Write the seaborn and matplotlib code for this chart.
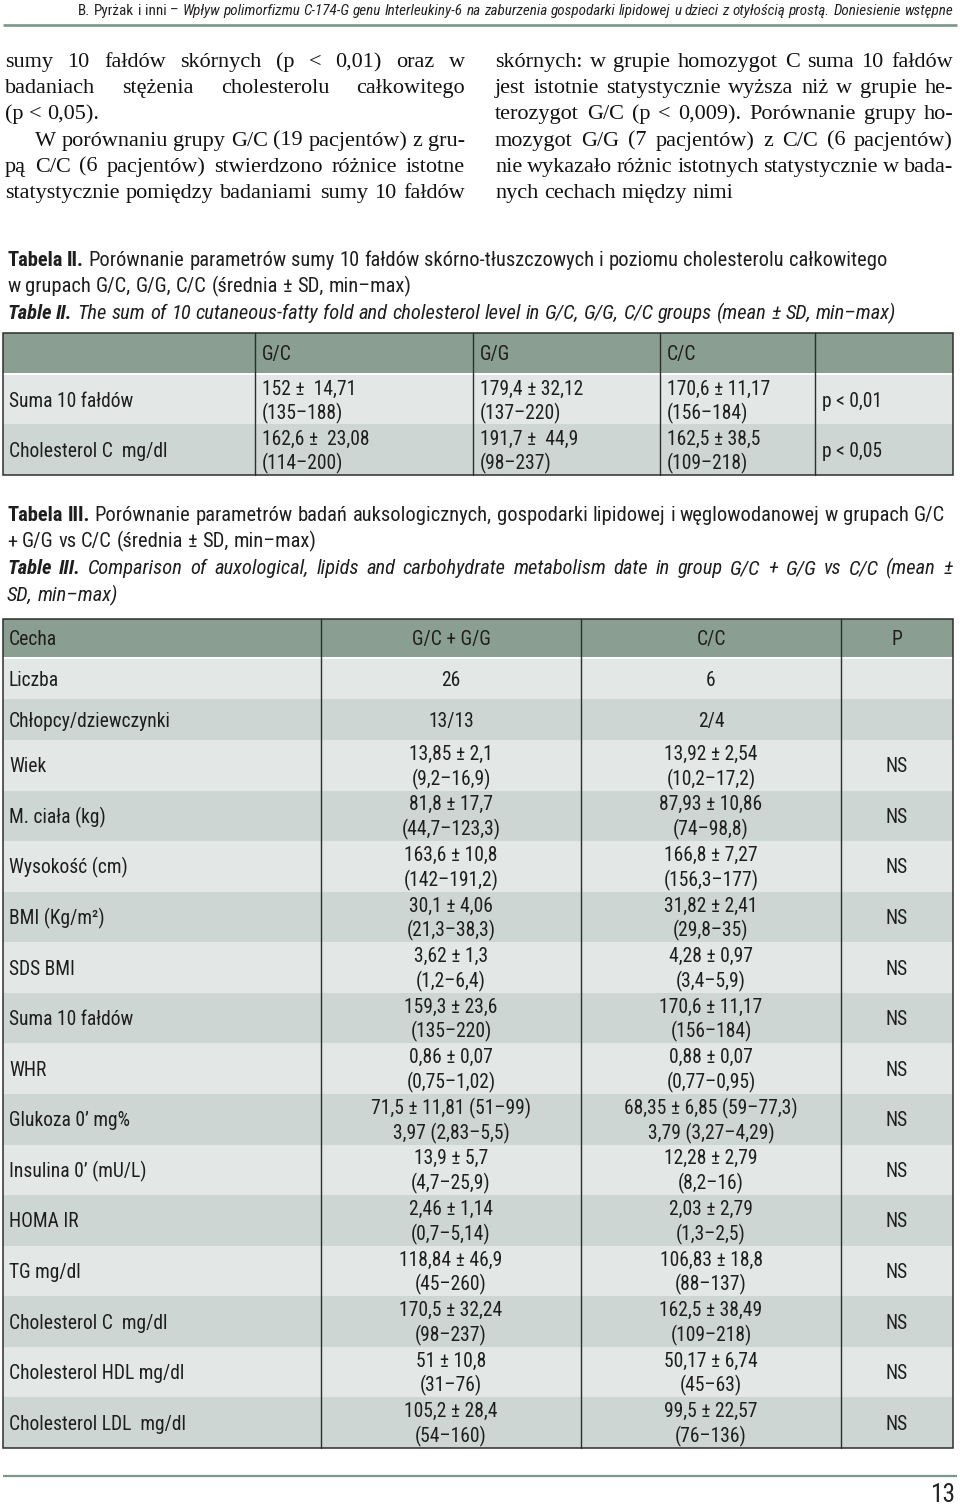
import numpy as np
import pandas as pd
import seaborn as sns
import matplotlib
matplotlib.use("Agg")
import matplotlib.pyplot as plt
from matplotlib.patches import Rectangle
from matplotlib import font_manager as fm

# ---------------- text content ----------------
header_author = "B. Pyrżak i inni –"
header_title = ("Wpływ polimorfizmu C-174-G genu Interleukiny-6 na zaburzenia gospodarki "
                "lipidowej u dzieci z otyłością prostą. Doniesienie wstępne")

left_col = [
    ("sumy 10 fałdów skórnych (p < 0,01) oraz w", True),
    ("badaniach stężenia cholesterolu całkowitego", True),
    ("(p < 0,05).", False),
    ("W porównaniu grupy G/C (19 pacjentów) z gru-", True),
    ("pą C/C (6 pacjentów) stwierdzono różnice istotne", True),
    ("statystycznie pomiędzy badaniami sumy 10 fałdów", True),
]
right_col = [
    ("skórnych: w grupie homozygot C suma 10 fałdów", True),
    ("jest istotnie statystycznie wyższa niż w grupie he-", True),
    ("terozygot G/C (p < 0,009). Porównanie grupy ho-", True),
    ("mozygot G/G (7 pacjentów) z C/C (6 pacjentów)", True),
    ("nie wykazało różnic istotnych statystycznie w bada-", True),
    ("nych cechach między nimi", False),
]

cap2_bold = "Tabela II."
cap2_text = ("Porównanie parametrów sumy 10 fałdów skórno-tłuszczowych i poziomu "
             "cholesterolu całkowitego")
cap2_line2 = "w  grupach G/C, G/G, C/C (średnia ± SD, min–max)"
cap2_en_bold = "Table II."
cap2_en_text = ("The sum of 10 cutaneous-fatty fold and cholesterol level in G/C, G/G, "
                "C/C groups (mean ± SD, min–max)")

cap3_bold = "Tabela III."
cap3_text = ("Porównanie parametrów badań auksologicznych, gospodarki lipidowej i  "
             "węglowodanowej  w grupach G/C")
cap3_line2 = "+ G/G vs C/C (średnia ± SD, min–max)"
cap3_en_bold = "Table III."
cap3_en_text = ("Comparison of auxological, lipids and carbohydrate metabolism date in "
                "group G/C + G/G vs C/C (mean ±")
cap3_en_line2 = "SD, min–max)"

# ---------------- Table II data ----------------
t2_columns = ["", "G/C", "G/G", "C/C", ""]
t2_labels = ["Suma 10 fałdów", "Cholesterol C  mg/dl"]
t2_gc_main = ["152 ±  14,71", "162,6 ±  23,08"]
t2_gc_range = ["(135–188)", "(114–200)"]
t2_gg_main = ["179,4 ± 32,12", "191,7 ±  44,9"]
t2_gg_range = ["(137–220)", "(98–237)"]
t2_cc_main = ["170,6 ± 11,17", "162,5 ± 38,5"]
t2_cc_range = ["(156–184)", "(109–218)"]
t2_p = ["p < 0,01", "p < 0,05"]

# ---------------- Table III data ----------------
t3_columns = ["Cecha", "G/C + G/G", "C/C", "P"]
t3_labels = ["Liczba", "Chłopcy/dziewczynki", "Wiek", "M. ciała (kg)", "Wysokość (cm)",
             "BMI (Kg/m²)", "SDS BMI", "Suma 10 fałdów", "WHR", "Glukoza 0’ mg%",
             "Insulina 0’ (mU/L)", "HOMA IR", "TG mg/dl", "Cholesterol C  mg/dl",
             "Cholesterol HDL mg/dl", "Cholesterol LDL  mg/dl"]
t3_gcgg_main = ["26", "13/13", "13,85 ± 2,1", "81,8 ± 17,7", "163,6 ± 10,8", "30,1 ± 4,06",
                "3,62 ± 1,3", "159,3 ± 23,6", "0,86 ± 0,07", "71,5 ± 11,81 (51–99)",
                "13,9 ± 5,7", "2,46 ± 1,14", "118,84 ± 46,9", "170,5 ± 32,24",
                "51 ± 10,8", "105,2 ± 28,4"]
t3_gcgg_range = ["", "", "(9,2–16,9)", "(44,7–123,3)", "(142–191,2)", "(21,3–38,3)",
                 "(1,2–6,4)", "(135–220)", "(0,75–1,02)", "3,97 (2,83–5,5)", "(4,7–25,9)",
                 "(0,7–5,14)", "(45–260)", "(98–237)", "(31–76)", "(54–160)"]
t3_cc_main = ["6", "2/4", "13,92 ± 2,54", "87,93 ± 10,86", "166,8 ± 7,27", "31,82 ± 2,41",
              "4,28 ± 0,97", "170,6 ± 11,17", "0,88 ± 0,07", "68,35 ± 6,85 (59–77,3)",
              "12,28 ± 2,79", "2,03 ± 2,79", "106,83 ± 18,8", "162,5 ± 38,49",
              "50,17 ± 6,74", "99,5 ± 22,57"]
t3_cc_range = ["", "", "(10,2–17,2)", "(74–98,8)", "(156,3–177)", "(29,8–35)", "(3,4–5,9)",
               "(156–184)", "(0,77–0,95)", "3,79 (3,27–4,29)", "(8,2–16)", "(1,3–2,5)",
               "(88–137)", "(109–218)", "(45–63)", "(76–136)"]
t3_p = ["", ""] + ["NS"] * 14
page_number = "13"

# ---------------- setup ----------------
sns.set_theme(style="white")


def pick_condensed():
    cands = [("Liberation Sans Narrow", "normal"), ("Arial Narrow", "normal"),
             ("Roboto Condensed", "normal"), ("Open Sans Condensed", "normal"),
             ("Noto Sans Condensed", "normal"), ("DejaVu Sans Condensed", "normal"),
             ("DejaVu Sans", "condensed"), ("Noto Sans", "condensed"),
             ("Roboto", "condensed"), ("Open Sans", "condensed")]
    for fam, st in cands:
        try:
            path = fm.findfont(fm.FontProperties(family=fam, stretch=st),
                               fallback_to_default=False)
            low = path.lower()
            if "narrow" in low or "condensed" in low or "cond" in low:
                return fam, st
        except Exception:
            pass
    return "Liberation Sans", "normal"


SANS, STRETCH = pick_condensed()
try:
    fm.findfont(fm.FontProperties(family="Liberation Serif"), fallback_to_default=False)
    SERIF = "Liberation Serif"
except Exception:
    SERIF = "DejaVu Serif"
plt.rcParams["font.family"] = [SANS, "DejaVu Sans"]

W, H = 960, 1505
fig = plt.figure(figsize=(W / 100, H / 100), dpi=100)
ax = fig.add_axes([0, 0, 1, 1])
ax.set_xlim(0, W)
ax.set_ylim(H, 0)
ax.axis("off")
renderer = fig.canvas.get_renderer()

HEAD = "#8a9f91"
LIGHT = "#e3e7e5"
DARK = "#cdd6d2"
BORDER = "#2e2e2e"
GREEN = "#7a9787"
INK = "#1e1e1e"


def props(family, weight="normal", style="normal"):
    return dict(family=[family, "DejaVu Sans"], weight=weight, style=style,
                fontstretch=STRETCH if family == SANS else "normal")


def tw(s, size, family, weight="normal", style="normal"):
    t = ax.text(0, 0, s, fontsize=size, **props(family, weight, style))
    w = t.get_window_extent(renderer).width
    t.remove()
    return w


def fit(s, target, family, weight="normal", style="normal"):
    return 10 * target / tw(s, 10, family, weight, style)


def draw_line(segs, x, y, size, family, justify_to=None, ha="left", color=INK):
    words = []
    for text, wt, st in segs:
        for w in text.split(" "):
            if w:
                words.append((w, wt, st))
    widths = [tw(w, size, family, wt, st) for w, wt, st in words]
    sp = tw("a a", size, family) - tw("aa", size, family)
    if justify_to is not None and len(words) > 1:
        gap = (justify_to - x - sum(widths)) / (len(words) - 1)
        gap = max(gap, 0.5 * sp)
    else:
        gap = sp
    total = sum(widths) + gap * (len(words) - 1)
    if ha == "right":
        x = x - total
    elif ha == "center":
        x = x - total / 2
    for (w, wt, st), wd in zip(words, widths):
        ax.text(x, y, w, fontsize=size, va="baseline", ha="left", color=color,
                **props(family, wt, st))
        x += wd + gap


# ---------------- page header ----------------
hs = fit(header_author + " " + header_title, 888, SANS)
draw_line([(header_author, "normal", "normal"), (header_title, "normal", "italic")],
          953, 15, hs, SANS, ha="right", color="#222222")
ax.plot([3, 957], [25, 25], color=GREEN, lw=1.9, solid_capstyle="butt")

# ---------------- body text ----------------
bs = fit("statystycznie pomiędzy badaniami sumy 10 fałdów", 458, SERIF)
for k, (txt, just) in enumerate(left_col):
    x0 = 35 if k == 3 else 5
    draw_line([(txt, "normal", "normal")], x0, 67 + 26.2 * k, bs, SERIF,
              justify_to=465 if just else None, color="#111111")
for k, (txt, just) in enumerate(right_col):
    draw_line([(txt, "normal", "normal")], 495, 67 + 26.2 * k, bs, SERIF,
              justify_to=953 if just else None, color="#111111")

# ---------------- captions ----------------
cs = fit(cap2_bold + " " + cap2_text, 873, SANS)
draw_line([(cap2_bold, "bold", "normal"), (cap2_text, "normal", "normal")], 7, 266, cs, SANS)
draw_line([(cap2_line2, "normal", "normal")], 7, 292, cs, SANS)
draw_line([(cap2_en_bold, "bold", "italic"), (cap2_en_text, "normal", "italic")], 7, 319, cs, SANS)

draw_line([(cap3_bold, "bold", "normal"), (cap3_text, "normal", "normal")], 7, 521, cs, SANS,
          justify_to=945)
draw_line([(cap3_line2, "normal", "normal")], 7, 547, cs, SANS)
draw_line([(cap3_en_bold, "bold", "italic"), (cap3_en_text, "normal", "italic")], 7, 574, cs, SANS,
          justify_to=953)
draw_line([(cap3_en_line2, "normal", "italic")], 7, 601, cs, SANS)

# ---------------- table cell text size ----------------
ts = fit("Chłopcy/dziewczynki", 154, SANS) * 1.05
em = ts * 100 / 72
off = 0.36 * em


def cell_text(x, yc, s, ha="left"):
    if s:
        ax.text(x, yc + off, s, fontsize=ts, ha=ha, va="baseline", color=INK,
                **props(SANS))


def rect(x0, x1, y0, y1, color):
    ax.add_patch(Rectangle((x0, y0), x1 - x0, y1 - y0, facecolor=color, edgecolor="none"))


# ---------------- Table II ----------------
c2 = [3, 255, 473, 660, 815, 953]
r2 = [(333, 373), (375, 424), (424, 475)]
rect(c2[0], c2[-1], r2[0][0], r2[0][1], HEAD)
rect(c2[0], c2[-1], r2[1][0], r2[1][1], LIGHT)
rect(c2[0], c2[-1], r2[2][0], r2[2][1], DARK)
for j, name in enumerate(t2_columns):
    cell_text(c2[j] + 7, 353, name)
t2_cols = [(t2_gc_main, t2_gc_range), (t2_gg_main, t2_gg_range), (t2_cc_main, t2_cc_range)]
for i in range(len(t2_labels)):
    y0, y1 = r2[i + 1]
    yc = (y0 + y1) / 2
    cell_text(9, yc, t2_labels[i])
    for j, (m, r) in enumerate(t2_cols):
        cell_text(c2[j + 1] + 7, yc - 12, m[i])
        cell_text(c2[j + 1] + 7, yc + 12.5, r[i])
    cell_text(c2[4] + 7, yc, t2_p[i])
ax.add_patch(Rectangle((c2[0], 333), c2[-1] - c2[0], 475 - 333, fill=False,
                       edgecolor=BORDER, lw=1.1))
for x in c2[1:-1]:
    ax.plot([x, x], [333, 475], color=BORDER, lw=1.0)

# ---------------- Table III ----------------
c3 = [3, 321, 581, 841, 953]
edges = [659, 699, 740] + [740 + 50.57 * (i + 1) for i in range(14)]
rect(c3[0], c3[-1], 619, 657, HEAD)
for i in range(len(t3_labels)):
    rect(c3[0], c3[-1], edges[i], edges[i + 1], LIGHT if i % 2 == 0 else DARK)
cell_text(9, 638, t3_columns[0])
for j in range(1, 4):
    cell_text((c3[j] + c3[j + 1]) / 2, 638, t3_columns[j], ha="center")
for i in range(len(t3_labels)):
    yc = (edges[i] + edges[i + 1]) / 2
    cell_text(9, yc, t3_labels[i])
    for j, (m, r) in enumerate([(t3_gcgg_main, t3_gcgg_range), (t3_cc_main, t3_cc_range)]):
        xc = (c3[j + 1] + c3[j + 2]) / 2
        if r[i]:
            cell_text(xc, yc - 12.5, m[i], ha="center")
            cell_text(xc, yc + 12.5, r[i], ha="center")
        else:
            cell_text(xc, yc, m[i], ha="center")
    cell_text((c3[3] + c3[4]) / 2, yc, t3_p[i], ha="center")
ax.add_patch(Rectangle((c3[0], 619), c3[-1] - c3[0], edges[-1] - 619, fill=False,
                       edgecolor=BORDER, lw=1.1))
for x in c3[1:-1]:
    ax.plot([x, x], [619, edges[-1]], color=BORDER, lw=1.0)

# ---------------- footer ----------------
ax.plot([3, 957], [1476, 1476], color=GREEN, lw=1.6, solid_capstyle="butt")
ax.text(955, 1502, page_number, fontsize=ts * 1.3, ha="right", va="baseline",
        color="#222222", **props(SANS))

fig.savefig("out.png", dpi=100, facecolor="white")
